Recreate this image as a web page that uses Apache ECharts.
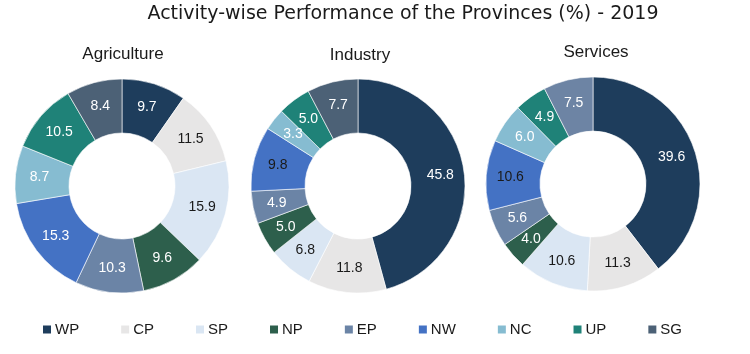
<!DOCTYPE html>
<html>
<head>
<meta charset="utf-8">
<script src="https://cdn.jsdelivr.net/npm/echarts@6/dist/echarts.min.js"></script>
<style>
  html, body { margin: 0; padding: 0; background: #fff; }
  #chart { width: 750px; height: 354px; }
</style>
</head>
<body>
<div id="chart"></div>
<script>
// provinces, in legend order
const provinces = ['WP', 'CP', 'SP', 'NP', 'EP', 'NW', 'NC', 'UP', 'SG']
const agriculture = [9.7, 11.5, 15.9, 9.6, 10.3, 15.3, 8.7, 10.5, 8.4]
const industry = [45.8, 11.8, 6.8, 5.0, 4.9, 9.8, 3.3, 5.0, 7.7]
const services = [39.6, 11.3, 10.6, 4.0, 5.6, 10.6, 6.0, 4.9, 7.5]

const colors = ['#1e3d5c', '#e7e6e6', '#dae6f3', '#2d5f4c', '#6b84a6', '#4472c4', '#86bcd1', '#1f8278', '#4c6176']
// slices that carry dark text
const darkLabels = {
  Agriculture: ['CP', 'SP'],
  Industry: ['CP', 'SP', 'NW'],
  Services: ['CP', 'SP', 'NW']
}

const font = 'Liberation Sans, Arial, sans-serif'

function makeSeries(name, values, center, overrides) {
  return {
    name: name,
    type: 'pie',
    center: center,
    radius: [53, 107],
    startAngle: 90,
    clockwise: true,
    avoidLabelOverlap: false,
    itemStyle: { borderColor: '#fff', borderWidth: 0.6 },
    label: {
      show: true,
      position: 'inside',
      fontFamily: font,
      fontSize: 14,
      formatter: (p) => p.value.toFixed(1)
    },
    labelLine: { show: false },
    emphasis: { disabled: true },
    data: provinces.map((p, i) => {
      const item = { name: p, value: values[i] }
      const dark = darkLabels[name].indexOf(p) >= 0
      item.label = { color: dark ? '#1a1a1a' : '#ffffff' }
      if (overrides && overrides[p]) item.itemStyle = { color: overrides[p] }
      return item
    })
  }
}

const chart = echarts.init(document.getElementById('chart'))

chart.setOption({
  color: colors,
  animation: false,
  title: [
    {
      text: 'Activity-wise Performance of the Provinces (%) - 2019',
      left: 398, top: 0, textAlign: 'center',
      textStyle: { fontFamily: 'DejaVu Sans, sans-serif', fontSize: 19, fontWeight: 'normal', color: '#1a1a1a' }
    },
    {
      text: 'Agriculture', left: 118, top: 41, textAlign: 'center',
      textStyle: { fontFamily: font, fontSize: 17, fontWeight: 'normal', color: '#1a1a1a' }
    },
    {
      text: 'Industry', left: 355, top: 42, textAlign: 'center',
      textStyle: { fontFamily: font, fontSize: 17, fontWeight: 'normal', color: '#1a1a1a' }
    },
    {
      text: 'Services', left: 591, top: 39, textAlign: 'center',
      textStyle: { fontFamily: font, fontSize: 17, fontWeight: 'normal', color: '#1a1a1a' }
    }
  ],
  legend: {
    data: provinces,
    bottom: 12,
    left: 36,
    itemWidth: 10,
    itemHeight: 10,
    itemGap: 40,
    icon: 'rect',
    textStyle: { fontFamily: font, fontSize: 15, color: '#1a1a1a', width: 22, padding: [0, 0, 0, -2] }
  },
  series: [
    makeSeries('Agriculture', agriculture, [122, 186]),
    makeSeries('Industry', industry, [358, 186]),
    makeSeries('Services', services, [593, 184], { SG: '#6d84a4' })
  ]
})
</script>
</body>
</html>
